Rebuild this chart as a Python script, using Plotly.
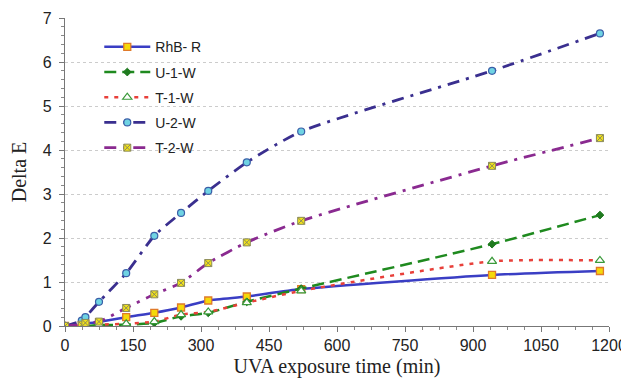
import plotly.graph_objects as go

time_min = [0, 37, 45, 75, 135, 197, 256, 316, 401, 521, 942, 1180]

rhb_r = [0, 0.02, 0.05, 0.09, 0.2, 0.3, 0.42, 0.58, 0.67, 0.84, 1.16, 1.25]
u_1_w = [0, 0.0, 0.0, 0.02, 0.03, 0.07, 0.22, 0.3, 0.55, 0.85, 1.86, 2.52]
t_1_w = [0, 0.0, 0.01, 0.03, 0.05, 0.1, 0.26, 0.32, 0.53, 0.8, 1.47, 1.49]
u_2_w = [0, 0.12, 0.2, 0.55, 1.2, 2.05, 2.57, 3.07, 3.72, 4.42, 5.8, 6.65]
t_2_w = [0, 0.03, 0.07, 0.1, 0.41, 0.72, 0.98, 1.43, 1.9, 2.39, 3.64, 4.27]

series = [
    ("RhB- R", rhb_r, dict(color="#3a3ec4", width=2.5, dash="solid"),
     dict(symbol="square", size=7, color="#f5d90a", line=dict(color="#e07a2a", width=1.3))),
    ("U-1-W", u_1_w, dict(color="#1f8a1f", width=2.5, dash="12px,6px"),
     dict(symbol="diamond", size=6, color="#1f7a1f", line=dict(color="#1f7a1f", width=1))),
    ("T-1-W", t_1_w, dict(color="#e8403a", width=2.5, dash="4px,6px"),
     dict(symbol="triangle-up", size=8, color="white", line=dict(color="#3a9a3a", width=1.2))),
    ("U-2-W", u_2_w, dict(color="#3a2f8f", width=2.8, dash="12px,7px,3px,7px"),
     dict(symbol="circle", size=7, color="#6fd3e3", line=dict(color="#3a5fa8", width=1.2))),
    ("T-2-W", t_2_w, dict(color="#8a2a90", width=2.8, dash="12px,7px,3px,7px"),
     dict(symbol="square-x", size=7, color="#f2e21a", line=dict(color="#8a8a5a", width=1))),
]

fig = go.Figure()
for i, (name, ys, ln, mk) in enumerate(series):
    fig.add_trace(go.Scatter(
        x=time_min, y=ys, name=name, mode="lines+markers",
        line=dict(shape="spline", smoothing=0.6, **ln), marker=mk,
        legendgroup=f"g{i}",
    ))

# page body has an 8px margin; keep the figure inside the window (no scrollbars)
fig.update_layout(
    width=621, height=370,
    margin=dict(l=57, r=20, t=10, b=52, autoexpand=False),
    paper_bgcolor="white", plot_bgcolor="white",
    font=dict(family="Liberation Sans, Arial", size=16, color="#222"),
    legend=dict(x=0.063, y=0.957, xanchor="left", yanchor="top",
                font=dict(size=14, family="Liberation Sans, Arial"),
                bgcolor="rgba(0,0,0,0)", tracegroupgap=4, traceorder="grouped",
                itemwidth=46),
    showlegend=True,
)
fig.update_xaxes(
    range=[0, 1200], tick0=0, dtick=150, showgrid=False, automargin=False,
    tickfont=dict(size=16),
    showline=True, linecolor="#777", linewidth=1.2,
    ticks="outside", ticklen=5, tickcolor="#777",
    minor=dict(dtick=37.5, ticks="outside", ticklen=3, tickcolor="#888"),
    title=dict(text="UVA exposure time (min)",
               font=dict(family="Liberation Serif, Times New Roman", size=20, color="#222"),
               standoff=6),
    zeroline=False,
)
fig.update_yaxes(
    range=[0, 7], dtick=1, showgrid=True, gridcolor="#cccccc", griddash="dot", gridwidth=1,
    automargin=False, ticklabelstandoff=4,
    showline=True, linecolor="#777", linewidth=1.2,
    ticks="outside", ticklen=5, tickcolor="#777",
    minor=dict(dtick=0.2, ticks="outside", ticklen=3, tickcolor="#888"),
    title=dict(text="Delta E",
               font=dict(family="Liberation Serif, Times New Roman", size=20, color="#222"),
               standoff=20),
    zeroline=False,
)

fig.write_html("out.html")
